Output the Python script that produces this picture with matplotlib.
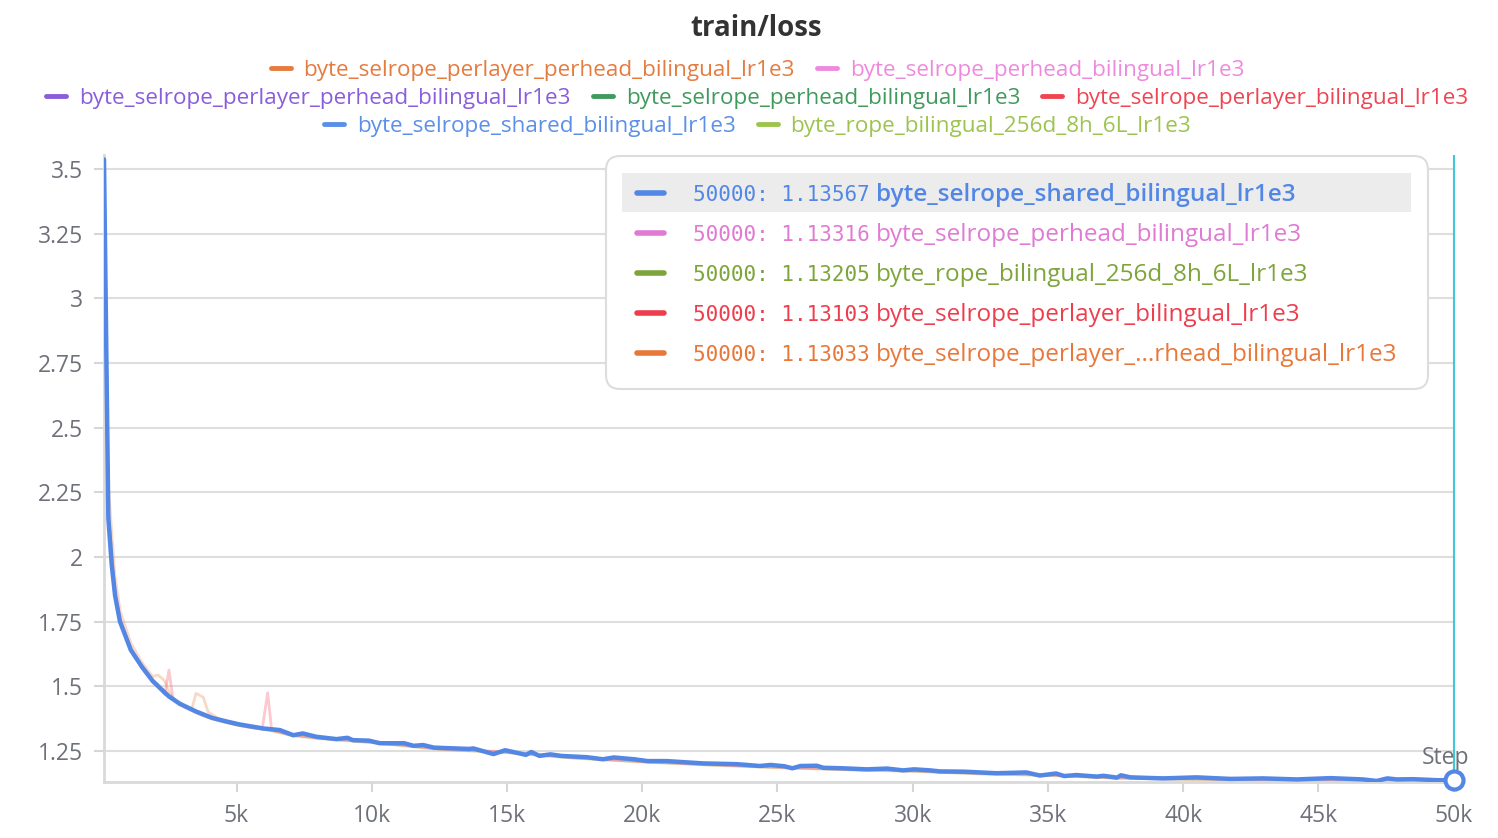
import matplotlib
matplotlib.use("Agg")
import matplotlib.pyplot as plt
from matplotlib.patches import FancyBboxPatch, Rectangle
from matplotlib.lines import Line2D
from matplotlib.transforms import IdentityTransform

# ---------------- data ----------------
title = "train/loss"

blue_steps = [100, 260, 385, 510, 690, 1090, 1500, 1900, 2500, 2900, 3500, 4100, 4600,
              5100, 5600, 6000, 6600, 7100, 7450, 7950, 8700, 9100, 9300, 9900, 10300,
              11200, 11550, 11900, 12300, 13600, 13750, 14500, 14930, 15700, 15900, 16200,
              16600, 17000, 17950, 18550, 18950, 19700, 20200, 20900, 21650, 22250, 23500,
              24350, 24750, 25250, 25550, 25850, 26450, 26700, 27450, 28300, 29050, 29650,
              30050, 30650, 31000, 31900, 33100, 34200, 34700, 35300, 35600, 36050, 36800,
              37050, 37550, 37700, 38050, 39250, 40500, 41750, 42950, 44200, 45450, 46650,
              47150, 47550, 47900, 48500, 49400, 50000]
blue_loss = [3.538, 2.15, 1.97, 1.85, 1.75, 1.64, 1.575, 1.52, 1.46, 1.432, 1.402, 1.377, 1.364,
             1.352, 1.343, 1.336, 1.330, 1.310, 1.317, 1.304, 1.295, 1.300, 1.291, 1.289, 1.279,
             1.279, 1.269, 1.272, 1.262, 1.257, 1.259, 1.237, 1.252, 1.234, 1.245, 1.230,
             1.236, 1.230, 1.225, 1.217, 1.224, 1.217, 1.210, 1.210, 1.205, 1.201, 1.198,
             1.191, 1.195, 1.190, 1.182, 1.191, 1.192, 1.184, 1.182, 1.178, 1.181, 1.174,
             1.178, 1.174, 1.170, 1.169, 1.163, 1.166, 1.154, 1.162, 1.152, 1.156, 1.150,
             1.153, 1.146, 1.155, 1.147, 1.143, 1.147, 1.141, 1.143, 1.139, 1.144, 1.139,
             1.133, 1.143, 1.139, 1.140, 1.136, 1.13567]

other_steps = [100, 260, 500, 700, 1100, 1500, 1900, 2100, 2350, 2500, 2650, 2900, 3350, 3500,
               3770, 3950, 4500, 5000, 5500, 5950, 6150, 6300, 7000, 8000, 10000, 12500, 15000,
               17500, 20000, 22500, 25000, 27500, 30000, 32500, 35000, 37500, 40000, 42500,
               45000, 47500, 50000]
red_loss = [3.53, 2.17, 1.86, 1.75, 1.64, 1.57, 1.515, 1.495, 1.468, 1.562, 1.452, 1.428, 1.405,
            1.397, 1.385, 1.378, 1.362, 1.350, 1.340, 1.334, 1.474, 1.330, 1.311, 1.299, 1.283,
            1.257, 1.244, 1.223, 1.208, 1.196, 1.186, 1.178, 1.172, 1.162, 1.156, 1.145, 1.141,
            1.138, 1.136, 1.134, 1.13103]
orange_loss = [3.54, 2.28, 1.93, 1.79, 1.665, 1.592, 1.537, 1.543, 1.52, 1.478, 1.455, 1.43,
               1.412, 1.472, 1.457, 1.40, 1.364, 1.350, 1.341, 1.334, 1.331, 1.328, 1.311,
               1.299, 1.282, 1.256, 1.243, 1.222, 1.207, 1.195, 1.185, 1.177, 1.171, 1.161,
               1.155, 1.144, 1.140, 1.137, 1.135, 1.133, 1.13033]
pink_loss = [3.53, 2.18, 1.87, 1.755, 1.645, 1.575, 1.52, 1.50, 1.475, 1.465, 1.455, 1.43,
             1.408, 1.400, 1.389, 1.382, 1.366, 1.352, 1.343, 1.336, 1.333, 1.330, 1.313,
             1.301, 1.286, 1.259, 1.246, 1.225, 1.210, 1.198, 1.188, 1.180, 1.174, 1.164,
             1.158, 1.147, 1.143, 1.140, 1.138, 1.136, 1.13316]
rope_loss = [3.53, 2.16, 1.865, 1.75, 1.64, 1.572, 1.517, 1.497, 1.468, 1.458, 1.448, 1.428,
             1.405, 1.398, 1.386, 1.379, 1.362, 1.349, 1.340, 1.333, 1.330, 1.327, 1.309,
             1.297, 1.281, 1.255, 1.242, 1.221, 1.206, 1.194, 1.184, 1.176, 1.170, 1.160,
             1.154, 1.144, 1.139, 1.137, 1.135, 1.133, 1.13205]

x_ticks = [5000, 10000, 15000, 20000, 25000, 30000, 35000, 40000, 45000, 50000]
x_tick_labels = ["5k", "10k", "15k", "20k", "25k", "30k", "35k", "40k", "45k", "50k"]
y_ticks = [1.25, 1.5, 1.75, 2.0, 2.25, 2.5, 2.75, 3.0, 3.25, 3.5]
y_tick_labels = ["1.25", "1.5", "1.75", "2", "2.25", "2.5", "2.75", "3", "3.25", "3.5"]

legend_rows = [
    [("byte_selrope_perlayer_perhead_bilingual_lr1e3", "#e67b3e"),
     ("byte_selrope_perhead_bilingual_lr1e3", "#ee8ade")],
    [("byte_selrope_perlayer_perhead_bilingual_lr1e3", "#8a5ddc"),
     ("byte_selrope_perhead_bilingual_lr1e3", "#3f9a5c"),
     ("byte_selrope_perlayer_bilingual_lr1e3", "#ef4552")],
    [("byte_selrope_shared_bilingual_lr1e3", "#5b8fe8"),
     ("byte_rope_bilingual_256d_8h_6L_lr1e3", "#9cc44e")],
]

tooltip_values = ["1.13567", "1.13316", "1.13205", "1.13103", "1.13033"]
tooltip_names = ["byte_selrope_shared_bilingual_lr1e3",
                 "byte_selrope_perhead_bilingual_lr1e3",
                 "byte_rope_bilingual_256d_8h_6L_lr1e3",
                 "byte_selrope_perlayer_bilingual_lr1e3",
                 "byte_selrope_perlayer_...rhead_bilingual_lr1e3"]
tooltip_colors = ["#5387e6", "#e07ad3", "#7ea53b", "#ee3e4e", "#e8773a"]
hover_step = 50000

# ---------------- style ----------------
BLUE = "#5387e6"
GRAY = "#6e717a"
W, H = 1498, 838
plt.rcParams["font.family"] = ["Open Sans", "DejaVu Sans"]

fig = plt.figure(figsize=(W / 100, H / 100), dpi=100)
fig.patch.set_facecolor("white")
ax = fig.add_axes([104 / W, 56 / H, 1351 / W, 627 / H])
renderer = fig.canvas.get_renderer()


def fit_size(s, target_px, base=16.0, **kw):
    t = fig.text(0, 0, s, fontsize=base, **kw)
    w = t.get_window_extent(renderer).width
    t.remove()
    return base * target_px / w


ax.plot(other_steps, rope_loss, color="#9cc44e", lw=2, alpha=0.3, zorder=2)
ax.plot(other_steps, pink_loss, color="#ee8ade", lw=2, alpha=0.3, zorder=2)
ax.plot(other_steps, orange_loss, color="#f0a070", lw=2, alpha=0.4, zorder=2)
ax.plot(other_steps, red_loss, color="#f57a85", lw=2, alpha=0.4, zorder=2)
ax.plot(blue_steps, blue_loss, color=BLUE, lw=3.2, zorder=5,
        solid_joinstyle="round", solid_capstyle="round")

ax.axvline(hover_step, ymin=0.003, ymax=1.0, color="#3fc8d8", lw=1.5, zorder=6)
ax.plot([blue_steps[-1]], [blue_loss[-1]], "o", ms=13, mfc="white", mec=BLUE,
        mew=3, zorder=8, clip_on=False)

ax.set_xlim(100, 50050)
ax.set_ylim(1.129, 3.555)
ax.set_xticks(x_ticks)
ax.set_xticklabels(x_tick_labels)
ax.set_yticks(y_ticks)
ax.set_yticklabels(y_tick_labels)
ax.tick_params(axis="both", color="#d6d6d6", labelcolor=GRAY,
               labelsize=16.5, length=7, width=1.5)
ax.tick_params(axis="x", pad=9)
ax.tick_params(axis="y", pad=8)
ax.yaxis.grid(True, color="#dedede", lw=1.5)
ax.set_axisbelow(True)
for s in ["top", "right"]:
    ax.spines[s].set_visible(False)
for s in ["left", "bottom"]:
    ax.spines[s].set_color("#d9d9d9")
    ax.spines[s].set_linewidth(2)

fig.text(1469 / W, 1 - 758 / H, "Step", ha="right", va="center",
         fontsize=16.5, color=GRAY, zorder=10)

# title
title_fs = fit_size(title, 132, base=18, weight="bold")
fig.text(756 / W, 1 - 29 / H, title, ha="center", va="center",
         fontsize=title_fs, weight="bold", color="#333333")

# legend (three centred rows)
leg_fs = fit_size(legend_rows[0][0][0], 491)
row_y = [70, 98, 126]
sw_len, gap_sw, gap_items = 20, 13, 22
for r, items in enumerate(legend_rows):
    widths = []
    for lab, col in items:
        t = fig.text(0, 0, lab, fontsize=leg_fs)
        widths.append(t.get_window_extent(renderer).width)
        t.remove()
    total = sum(sw_len + gap_sw + w for w in widths) + gap_items * (len(items) - 1)
    x = 757.5 - total / 2
    y = H - row_y[r]
    for (lab, col), w in zip(items, widths):
        fig.add_artist(Line2D([x, x + sw_len], [y + 2, y + 2], transform=IdentityTransform(),
                              color=col, lw=3.5, solid_capstyle="round"))
        fig.text(x + sw_len + gap_sw, y, lab, transform=IdentityTransform(),
                 ha="left", va="center", fontsize=leg_fs, color=col)
        x += sw_len + gap_sw + w + gap_items

# tooltip box
box = FancyBboxPatch((606, H - 389), 822, 233, boxstyle="round,pad=0,rounding_size=14",
                     transform=IdentityTransform(), fc="white", ec="#dddddd", lw=1.5,
                     zorder=20)
fig.add_artist(box)
fig.add_artist(Rectangle((622, H - 212), 789, 39, transform=IdentityTransform(),
                         fc="#ececec", ec="none", zorder=21))
name_fs = fit_size(tooltip_names[0], 421, weight="semibold")
num_fs = fit_size(f"{hover_step}: {tooltip_values[0]}", 176, family=["DejaVu Sans Mono"])
for i, (val, name, col) in enumerate(zip(tooltip_values, tooltip_names, tooltip_colors)):
    y = H - (193 + 40 * i)
    fig.add_artist(Line2D([637, 664], [y, y], transform=IdentityTransform(),
                          color=col, lw=4, solid_capstyle="round", zorder=22))
    fig.text(693, y - 2, f"{hover_step}: {val}", transform=IdentityTransform(),
             ha="left", va="center", fontsize=num_fs, color=col,
             family=["DejaVu Sans Mono"], zorder=22)
    fig.text(876, y - 2, name, transform=IdentityTransform(), ha="left", va="center",
             fontsize=name_fs, color=col, zorder=22,
             weight="semibold" if i == 0 else "normal")

fig.savefig("out.png", dpi=100, facecolor="white")
